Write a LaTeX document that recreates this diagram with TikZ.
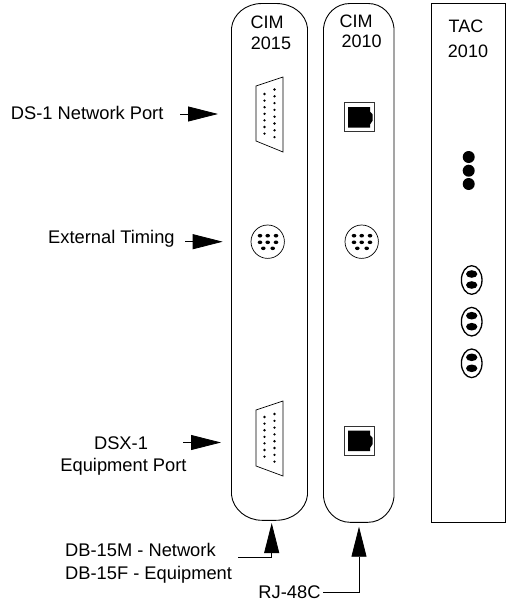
\documentclass[tikz,border=0pt]{standalone}
\usepackage{fontspec}
\setmainfont{Liberation Sans}
\usetikzlibrary{arrows.meta}
\tikzset{
  x=1pt,y=-1pt,
  card/.style={draw=black,line width=0.9pt,fill=none},
  lab/.style={inner sep=0pt,anchor=base,font=\fontsize{18.3}{22}\selectfont},
  ttl/.style={inner sep=0pt,anchor=base,font=\fontsize{18}{22}\selectfont},
  harrow/.style={draw=black,line width=0.8pt,-{Triangle[length=30pt,width=15pt,fill=black]}},
  pin/.style={fill=black},
}
\newcommand{\dbshape}[6]{%
  \draw[line width=0.7pt] (256,#1) -- (283,#2) -- (283,#3) -- (256,#4) -- cycle;
  \foreach \k in {0,...,6} \fill[pin] (264.5,{#5+\k*6.6}) circle (1.3);
  \foreach \k in {0,...,7} \fill[pin] (274.5,{#6+\k*6.8}) circle (1.3);
}
\newcommand{\rjshape}[1]{%
  \draw[line width=0.7pt,draw=black!80] (344.5,#1) rectangle (374,#1+29);
  \fill[black] (348,#1+4.5) -- (370,#1+4.5) -- (370,#1+9) -- (372.7,#1+12) -- (372.7,#1+18) -- (370,#1+22) -- (370,#1+25) -- (348,#1+25) -- cycle;
}
\newcommand{\dinshape}[1]{%
  \draw[line width=0.7pt] (#1,241.7) circle (16.7);
  \foreach \dx in {-7.7,0,8.3}{\fill[pin] (#1+\dx,235.7) ellipse (2.3 and 1.8);\fill[pin] (#1+\dx,242.3) ellipse (2.3 and 1.8);}
  \foreach \dx in {-4.4,5}{\fill[pin] (#1+\dx,248.3) ellipse (2.3 and 1.8);}
}
\newcommand{\ovalshape}[1]{%
  \draw[line width=1.3pt] (471.7,#1) ellipse (10.3 and 14.3);
  \fill[black] (471.7,#1-6) ellipse (5.7 and 3.8);
  \fill[black] (471.7,#1+5) ellipse (5.7 and 3.8);
}
\begin{document}
\begin{tikzpicture}
\useasboundingbox (0,0) rectangle (506,602);
% cards
\draw[card] (231.5,28) .. controls (233,14) and (246,3.5) .. (262,3.5) -- (276,3.5) .. controls (293,3.5) and (306,14) .. (307.5,28) -- (307.5,495) .. controls (306,509) and (293,520.3) .. (276,520.3) -- (262,520.3) .. controls (246,520.3) and (233,509) .. (231.5,495) -- cycle;
\draw[card] (323.5,28) .. controls (325,14) and (336,3.5) .. (350,3.5) -- (368,3.5) .. controls (382,3.5) and (392.5,14) .. (394,28) -- (394,497) .. controls (392.5,511) and (382,522.3) .. (368,522.3) -- (350,522.3) .. controls (336,522.3) and (325,511) .. (323.5,497) -- cycle;
\draw[card] (431.3,3) rectangle (505,522.7);
% titles
\node[ttl] (t1a) at (267,28.3) {CIM};
\node[ttl] (t1b) at (271,50) {2015};
\node[ttl] (t2a) at (356,28) {CIM};
\node[ttl] (t2b) at (361.7,48) {2010};
\node[ttl] (t3a) at (466,33) {TAC};
\node[ttl] (t3b) at (468,57) {2010};
% connectors on cards
\dbshape{86}{77}{152}{141}{94}{89.5}
\dbshape{410}{401}{476}{466}{417}{414}
\rjshape{102.5}
\rjshape{426}
\dinshape{267.7}
\dinshape{361.7}
\foreach \y in {157,170.7,184}{
  \fill[black] (468.7,\y) circle (6);
}
\ovalshape{280}
\ovalshape{321.7}
\ovalshape{363.3}
% labels
\node[lab,anchor=base west] (ds) at (10.7,119.5) {DS-1 Network Port};
\node[lab,anchor=base west] (et) at (48,243) {External Timing};
\node[lab] (dsx) at (121,449) {DSX-1};
\node[lab] (eqp) at (123.5,471) {Equipment Port};
\node[lab,anchor=base west] (db1) at (65,556) {DB-15M - Network};
\node[lab,anchor=base west] (db2) at (65,579) {DB-15F - Equipment};
\node[lab,anchor=base east] (rj) at (320.7,598) {RJ-48C};
% arrows
\coordinate (a1s) at (180,114);
\coordinate (a1) at (218,114);
\coordinate (a2s) at (185,241.7);
\coordinate (a2) at (222.7,241.7);
\coordinate (a3s) at (183,442.5);
\coordinate (a3) at (221,442.5);
\coordinate (a4s) at (238,557);
\coordinate (a4c) at (271.7,557);
\coordinate (a4) at (271.7,523);
\coordinate (a5s) at (323,592.7);
\coordinate (a5c) at (359,592.7);
\coordinate (a5) at (359,526.7);
\draw[harrow] (a1s) -- (a1);
\draw[harrow] (a2s) -- (a2);
\draw[harrow] (a3s) -- (a3);
\draw[harrow] (a4s) -- (a4c) -- (a4);
\draw[harrow] (a5s) -- (a5c) -- (a5);
\end{tikzpicture}
\end{document}
